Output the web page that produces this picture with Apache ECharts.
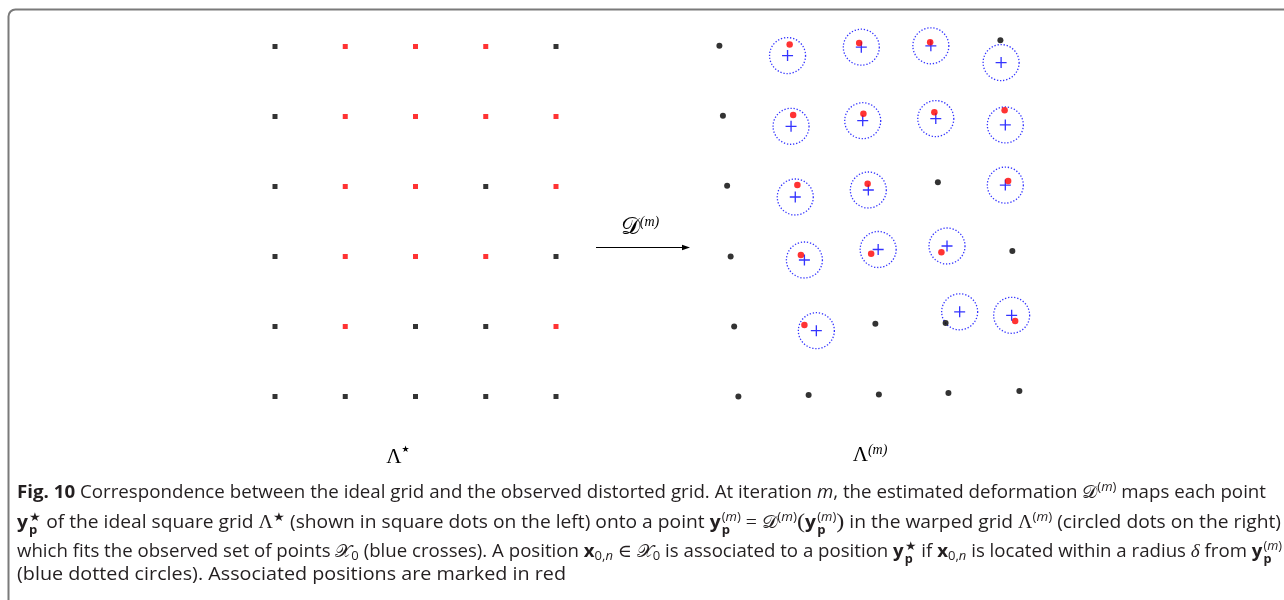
<!DOCTYPE html>
<html>
<head>
<meta charset="utf-8">
<script src="https://cdn.jsdelivr.net/npm/echarts@6/dist/echarts.min.js"></script>
<style>
  html, body { margin:0; padding:0; background:#fff; }
  #wrap { position:relative; width:1284px; height:600px; overflow:hidden; }
  #chart { position:absolute; left:0; top:0; width:1284px; height:600px; }
  .cap { position:absolute; left:17px; white-space:nowrap; font-family:'Open Sans', sans-serif; font-size:17.5px; color:#231f20; line-height:20px; transform-origin:0 50%; }
  .cap b { font-weight:700; }
  .m { font-family:'Liberation Serif', 'DejaVu Serif', serif; font-size:18px; }
  .big { font-family:'Liberation Serif', 'DejaVu Serif', serif; font-size:22px; }
  .ss { display:inline-block; font-size:0.68em; line-height:1.05; vertical-align:-0.45em; margin-left:1px; text-align:left; }
  .ss span { display:block; }
  sup { font-size:0.7em; line-height:0; vertical-align:0.55em; }
  sub { font-size:0.7em; line-height:0; vertical-align:-0.25em; }
</style>
</head>
<body>
<div id="wrap">
  <div id="chart"></div>
  <div class="cap" id="l1" data-w="1249" style="top:481px"><b>Fig. 10</b> Correspondence between the ideal grid and the observed distorted grid. At iteration <i>m</i>, the estimated deformation <span class="m">𝒟</span><sup>(<i>m</i>)</sup> maps each point</div>
  <div class="cap" id="l2" data-w="1264" style="top:510px"><b>y</b><span class="ss"><span>★</span><span><b>p</b></span></span> of the ideal square grid <span class="m">Λ</span><sup>★</sup> (shown in square dots on the left) onto a point <b>y</b><span class="ss"><span>(<i>m</i>)</span><span><b>p</b></span></span> <span class="m">=</span> <span class="m">𝒟</span><sup>(<i>m</i>)</sup><span class="big">(</span><b>y</b><span class="ss"><span>(<i>m</i>)</span><span><b>p</b></span></span><span class="big">)</span> in the warped grid <span class="m">Λ</span><sup>(<i>m</i>)</sup> (circled dots on the right)</div>
  <div class="cap" id="l3" data-w="1265" style="top:539px">which fits the observed set of points <span class="m">𝒳</span><sub>0</sub> (blue crosses). A position <b>x</b><sub>0,<i>n</i></sub> <span class="m">∈</span> <span class="m">𝒳</span><sub>0</sub> is associated to a position <b>y</b><span class="ss"><span>★</span><span><b>p</b></span></span> if <b>x</b><sub>0,<i>n</i></sub> is located within a radius <span class="m"><i>δ</i></span> from <b>y</b><span class="ss"><span>(<i>m</i>)</span><span><b>p</b></span></span></div>
  <div class="cap" id="l4" data-w="549" style="top:563px">(blue dotted circles). Associated positions are marked in red</div>
</div>
<script>
// ---- data ----
const idealCols = [0, 1, 2, 3, 4];
const idealRows = [0, 1, 2, 3, 4, 5];
// 1 = associated (red), 0 = not associated (black)
const associated = [
  [0, 1, 1, 1, 0],
  [0, 1, 1, 1, 1],
  [0, 1, 1, 0, 1],
  [0, 1, 1, 1, 0],
  [0, 1, 0, 0, 1],
  [0, 0, 0, 0, 0]
];
// warped grid positions y_p^(m), in grid units
const warpedX = [
  [0.02, 1.02, 2.01, 3.02, 4.02],
  [0.07, 1.07, 2.07, 3.08, 4.08],
  [0.13, 1.13, 2.13, 3.13, 4.13],
  [0.18, 1.18, 2.18, 3.18, 4.19],
  [0.23, 1.23, 2.24, 3.24, 4.23],
  [0.29, 1.29, 2.29, 3.28, 4.29]
];
const warpedY = [
  [-0.01, -0.03, -0.05, -0.06, -0.09],
  [0.99, 0.98, 0.96, 0.94, 0.91],
  [1.99, 1.98, 1.96, 1.94, 1.92],
  [3.00, 2.98, 2.96, 2.94, 2.92],
  [4.00, 3.98, 3.96, 3.95, 3.92],
  [5.00, 4.98, 4.97, 4.95, 4.92]
];
// observed points X_0 (blue crosses), in grid units
const crossX = [0.99, 2.04, 3.03, 4.03, 1.04, 2.06, 3.10, 4.09, 1.10, 2.14, 4.09, 1.23, 2.28, 3.26, 1.40, 3.44, 4.18];
const crossY = [0.13, 0.01, -0.01, 0.23, 1.14, 1.06, 1.03, 1.12, 2.15, 2.05, 1.98, 3.05, 2.90, 2.85, 4.06, 3.79, 3.84];

// ---- build series data ----
const idealBlack = [], idealRed = [], warpBlack = [], warpRed = [];
idealRows.forEach((r, i) => {
  idealCols.forEach((c, j) => {
    (associated[i][j] ? idealRed : idealBlack).push([c, r]);
    (associated[i][j] ? warpRed : warpBlack).push([warpedX[i][j], warpedY[i][j]]);
  });
});
const crosses = crossX.map((x, k) => [x, crossY[k]]);

const chart = echarts.init(document.getElementById('chart'), null, { renderer: 'canvas' });
const hiddenAxis = (idx, inv, max) => ({ type: 'value', gridIndex: idx, min: 0, max: max, inverse: inv, show: false, splitLine: { show: false } });
const crossPath = 'path://M4.4,0H5.6V10H4.4ZM0,4.4H10V5.6H0Z';

chart.setOption({
  animation: false,
  grid: [
    { left: 275, top: 46.5, width: 281, height: 350 },
    { left: 718, top: 46.5, width: 281, height: 350 }
  ],
  xAxis: [hiddenAxis(0, false, 4), hiddenAxis(1, false, 4)],
  yAxis: [hiddenAxis(0, true, 5), hiddenAxis(1, true, 5)],
  series: [
    { type: 'scatter', xAxisIndex: 0, yAxisIndex: 0, clip: false, symbol: 'rect', symbolSize: 5, itemStyle: { color: '#000' }, data: idealBlack },
    { type: 'scatter', xAxisIndex: 0, yAxisIndex: 0, clip: false, symbol: 'rect', symbolSize: 5, itemStyle: { color: '#ff0000' }, data: idealRed },
    { type: 'scatter', xAxisIndex: 1, yAxisIndex: 1, clip: false, symbol: 'circle', symbolSize: 36, itemStyle: { color: 'rgba(0,0,0,0)', borderColor: '#0000ff', borderWidth: 1.3, borderType: [1.3, 1.8] }, data: crosses, z: 1 },
    { type: 'scatter', xAxisIndex: 1, yAxisIndex: 1, clip: false, symbol: crossPath, symbolSize: 11, itemStyle: { color: '#0000ff' }, data: crosses, z: 2 },
    { type: 'scatter', xAxisIndex: 1, yAxisIndex: 1, clip: false, symbol: 'circle', symbolSize: 6, itemStyle: { color: '#000' }, data: warpBlack, z: 3 },
    { type: 'scatter', xAxisIndex: 1, yAxisIndex: 1, clip: false, symbol: 'circle', symbolSize: 6.5, itemStyle: { color: '#ff0000' }, data: warpRed, z: 3 }
  ],
  graphic: [
    { type: 'rect', shape: { x: 8.5, y: 9.5, width: 1500, height: 800, r: 7 }, style: { fill: 'none', stroke: '#7a7a7a', lineWidth: 2 }, silent: true },
    { type: 'line', shape: { x1: 596, y1: 247.5, x2: 685, y2: 247.5 }, style: { stroke: '#000', lineWidth: 1.2 } },
    { type: 'polygon', shape: { points: [[682, 244.8], [690, 247.5], [682, 250.2]] }, style: { fill: '#000' } },
    { type: 'text', x: 640, y: 228, style: { text: '{a|𝒟}{b|(m)}', align: 'center', verticalAlign: 'middle',
        rich: { a: { fontSize: 24, fontFamily: 'DejaVu Serif', lineHeight: 26, fill: '#000' },
                b: { fontSize: 14, fontFamily: 'Liberation Serif', fontStyle: 'italic', lineHeight: 14, verticalAlign: 'top', fill: '#000' } } } },
    { type: 'text', x: 398, y: 457, style: { text: '{a|Λ}{b|★}', align: 'center', verticalAlign: 'middle',
        rich: { a: { fontSize: 21, fontFamily: 'Liberation Serif', lineHeight: 24, fill: '#000' },
                b: { fontSize: 9, fontFamily: 'DejaVu Sans', lineHeight: 12, verticalAlign: 'top', fill: '#000' } } } },
    { type: 'text', x: 870, y: 455, style: { text: '{a|Λ}{b|(m)}', align: 'center', verticalAlign: 'middle',
        rich: { a: { fontSize: 21, fontFamily: 'Liberation Serif', lineHeight: 24, fill: '#000' },
                b: { fontSize: 14, fontFamily: 'Liberation Serif', fontStyle: 'italic', lineHeight: 14, verticalAlign: 'top', fill: '#000' } } } }
  ]
});

function fitCaption() {
  document.querySelectorAll('.cap').forEach(el => {
    el.style.transform = 'none';
    const w = el.getBoundingClientRect().width;
    const target = parseFloat(el.dataset.w);
    el.style.transform = 'scaleX(' + (target / w) + ')';
  });
}
fitCaption();
if (document.fonts && document.fonts.ready) document.fonts.ready.then(fitCaption);
</script>
</body>
</html>
